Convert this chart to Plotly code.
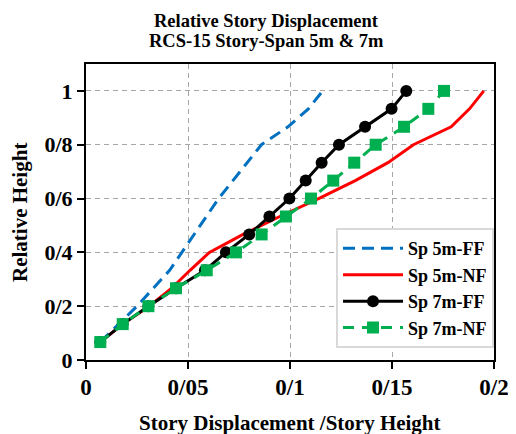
import plotly.graph_objects as go

heights = [1/15 * i for i in range(1, 16)]
sp5_ff = [0.007, 0.016, 0.025, 0.033, 0.041, 0.047, 0.053, 0.059, 0.065, 0.072, 0.079, 0.086, 0.099, 0.109, 0.116]
sp5_nf = [0.007, 0.018, 0.031, 0.042, 0.051, 0.0605, 0.077, 0.095, 0.114, 0.132, 0.148, 0.1605, 0.179, 0.188, 0.195]
sp7_ff = [0.007, 0.018, 0.0306, 0.0441, 0.0583, 0.0686, 0.080, 0.0899, 0.0997, 0.1077, 0.1155, 0.124, 0.1368, 0.1498, 0.157]
sp7_nf = [0.007, 0.018, 0.0306, 0.0441, 0.0592, 0.0735, 0.0861, 0.098, 0.1103, 0.1212, 0.1315, 0.142, 0.1559, 0.1678, 0.1755]

x_ticks = [0, 0.05, 0.1, 0.15, 0.2]
x_ticktext = ["0", "0/05", "0/1", "0/15", "0/2"]
y_ticks = [0, 0.2, 0.4, 0.6, 0.8, 1.0]
y_ticktext = ["0", "0/2", "0/4", "0/6", "0/8", "1"]

title_lines = ["Relative Story Displacement", "RCS-15 Story-Span 5m & 7m"]
x_title = "Story Displacement /Story Height"
y_title = "Relative Height"

F = "Liberation Serif"

fig = go.Figure()
fig.add_trace(go.Scatter(x=sp5_ff, y=heights, mode="lines", name="<b>Sp 5m-FF</b>",
                         line=dict(color="#0070C0", width=3, dash="12px,7px")))
fig.add_trace(go.Scatter(x=sp5_nf, y=heights, mode="lines", name="<b>Sp 5m-NF</b>",
                         line=dict(color="#FF0000", width=3)))
fig.add_trace(go.Scatter(x=sp7_ff, y=heights, mode="lines+markers", name="<b>Sp 7m-FF</b>",
                         line=dict(color="#000000", width=3),
                         marker=dict(symbol="circle", size=12, color="#000000")))
fig.add_trace(go.Scatter(x=sp7_nf, y=heights, mode="lines+markers", name="<b>Sp 7m-NF</b>",
                         line=dict(color="#00B050", width=3, dash="11px,8px"),
                         marker=dict(symbol="square", size=12, color="#00B050")))

axis_common = dict(
    showgrid=True, gridcolor="#a6a6a6", griddash="5px,4px", gridwidth=1,
    showline=True, linecolor="black", linewidth=2, mirror=True,
    ticks="outside", ticklen=7, tickwidth=1.5, tickcolor="black",
    zeroline=False, automargin=False,
)

# page body has an 8px margin, so figure is 508x426 and offsets are page-8
fig.update_layout(
    width=508, height=426,
    margin=dict(l=78, r=22, t=56, b=74),
    paper_bgcolor="white", plot_bgcolor="white",
    font=dict(family=F, color="black"),
    xaxis=dict(range=[0, 0.2], tickvals=x_ticks, ticktext=[f"<b>{t}</b>" for t in x_ticktext],
               tickfont=dict(size=23, family=F, color="black"), ticklabelstandoff=-2,
               **axis_common),
    yaxis=dict(range=[0, 1.1], tickvals=y_ticks, ticktext=[f"<b>{t}</b>" for t in y_ticktext],
               tickfont=dict(size=22, family=F, color="black"), ticklabelstandoff=0,
               **axis_common),
    legend=dict(x=1.0, xanchor="right", y=0.04, yanchor="bottom",
                bgcolor="white", bordercolor="#d9d9d9", borderwidth=2,
                font=dict(size=18, family=F, color="black"),
                tracegroupgap=0, itemwidth=60),
    showlegend=True,
    annotations=[
        dict(text=f"<b>{title_lines[0]}</b>", xref="paper", yref="paper",
             x=(266 - 86) / 408, y=(360 - 21) / 296, xanchor="center", yanchor="middle",
             showarrow=False, font=dict(size=18.5, family=F, color="black")),
        dict(text=f"<b>{title_lines[1]}</b>", xref="paper", yref="paper",
             x=(266 - 86) / 408, y=(360 - 41) / 296, xanchor="center", yanchor="middle",
             showarrow=False, font=dict(size=18.5, family=F, color="black")),
        dict(text=f"<b>{x_title}</b>", xref="paper", yref="paper",
             x=(290 - 86) / 408, y=(360 - 423) / 296, xanchor="center", yanchor="middle",
             showarrow=False, font=dict(size=21, family=F, color="black")),
        dict(text=f"<b>{y_title}</b>", xref="paper", yref="paper",
             x=(20 - 86) / 408, y=(360 - 213) / 296, xanchor="center", yanchor="middle",
             textangle=-90, showarrow=False, font=dict(size=21, family=F, color="black")),
    ],
)

fig.write_html("out.html")
